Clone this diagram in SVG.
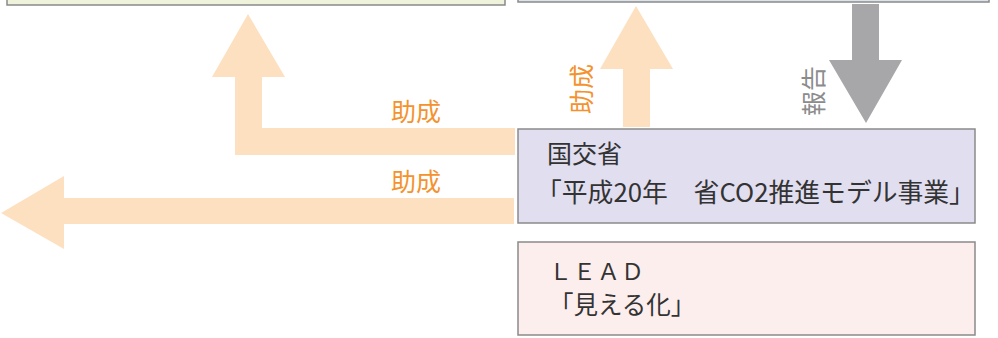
<svg xmlns="http://www.w3.org/2000/svg" width="998" height="338" viewBox="0 0 998 338">
<style>
.box{stroke:#8a8a8a;stroke-width:1.5}
.t{font-family:"Noto Sans CJK JP","Noto Sans",sans-serif;font-size:25px;fill:#333333}
.lbl{font-family:"Noto Sans CJK JP","Noto Sans",sans-serif;font-size:25px;fill:#f4922e;text-anchor:middle;dominant-baseline:central}
.gl{font-family:"Noto Sans CJK JP","Noto Sans",sans-serif;font-size:25px;fill:#8c8c8c;text-anchor:middle;dominant-baseline:central}
.oa{fill:#fde0c0}
.ga{fill:#a7a7a9}
</style>
<g id="node-top-left"><rect class="box" x="7" y="-20" width="498" height="25" fill="#eff3dc"/></g>
<g id="node-top-right"><rect class="box" x="518" y="-20" width="471" height="22" fill="#dde3ea"/></g>
<g id="connectors">
<polygon class="oa" points="515,128 262,128 262,77 285,77 248,14 212,77 235,77 235,155 515,155"/>
<polygon class="oa" points="514,198 64,198 64,176 1,213 64,249 64,224 514,224"/>
<polygon class="oa" points="623,127 623,69 600,69 636,6 673,69 650,69 650,127"/>
<polygon class="ga" points="852,4 879,4 879,60 902,60 866,123 829,60 852,60"/>
<text class="lbl" x="416" y="110">助成</text>
<text class="lbl" x="416" y="180">助成</text>
<text class="lbl" transform="translate(580,89) rotate(-90)">助成</text>
<text class="gl" transform="translate(812,91) rotate(-90)">報告</text>
</g>
<g id="node-mlit"><rect class="box" x="518" y="129" width="457" height="94" fill="#e1def0"/>
<text class="t" x="547" y="163">国交省</text>
<text class="t" x="536" y="202" style="font-size:25.8px">「平成20年　省CO2推進モデル事業」</text></g>
<g id="node-lead"><rect class="box" x="518" y="242" width="457" height="93" fill="#fdeeee"/>
<text class="t" x="549" y="280" style="font-size:23px;letter-spacing:1px">ＬＥＡＤ</text>
<text class="t" x="549" y="314" style="font-size:24.5px">「見える化」</text></g>
</svg>
